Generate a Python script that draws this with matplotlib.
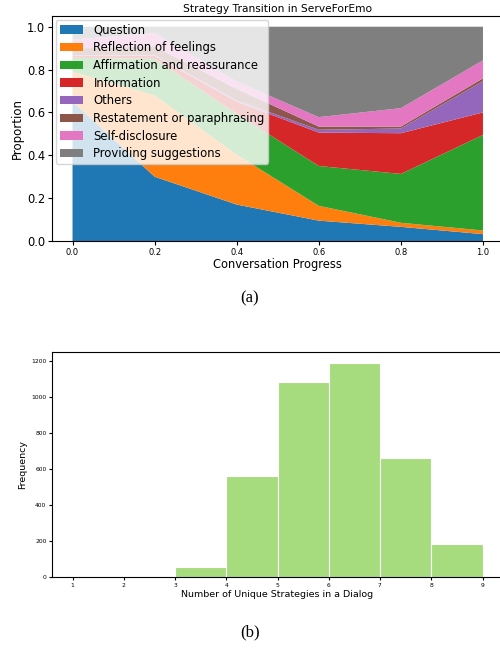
import matplotlib
matplotlib.use("Agg")
import matplotlib.pyplot as plt
import numpy as np

# ---- data: stacked strategy proportions ----
progress = [0.0, 0.2, 0.4, 0.6, 0.8, 1.0]
strategies = ["Question", "Reflection of feelings", "Affirmation and reassurance",
              "Information", "Others", "Restatement or paraphrasing",
              "Self-disclosure", "Providing suggestions"]
question      = [0.650, 0.300, 0.170, 0.095, 0.066, 0.032]
reflection    = [0.140, 0.380, 0.233, 0.069, 0.019, 0.017]
affirmation   = [0.065, 0.170, 0.190, 0.186, 0.228, 0.446]
information   = [0.010, 0.015, 0.057, 0.156, 0.190, 0.105]
others        = [0.003, 0.003, 0.006, 0.013, 0.022, 0.146]
restatement   = [0.030, 0.040, 0.054, 0.015, 0.009, 0.013]
self_disclose = [0.042, 0.062, 0.034, 0.044, 0.086, 0.084]
suggestions   = [0.060, 0.030, 0.256, 0.422, 0.380, 0.157]

# ---- data: histogram of unique strategies ----
bin_edges = [1, 2, 3, 4, 5, 6, 7, 8, 9]
counts = [0, 0, 58, 563, 1085, 1191, 661, 182]

colors = ["#1f77b4", "#ff7f0e", "#2ca02c", "#d62728", "#9467bd",
          "#8c564b", "#e377c2", "#7f7f7f"]

fig = plt.figure(figsize=(5, 6.5), dpi=100)

# ---- (a) stackplot ----
W, H = 500.0, 650.0
ax1 = fig.add_axes([52 / W, 1 - 241 / H, (503.5 - 52) / W, 225 / H])
ax1.stackplot(progress, question, reflection, affirmation, information, others,
              restatement, self_disclose, suggestions, labels=strategies, colors=colors)
ax1.set_title("Strategy Transition in ServeForEmo", fontsize=7.7, pad=3)
ax1.set_xlabel("Conversation Progress", fontsize=8.3, labelpad=1)
ax1.set_ylabel("Proportion", fontsize=8.5, labelpad=2)
ax1.tick_params(axis="y", labelsize=8.3, length=3, pad=2)
ax1.tick_params(axis="x", labelsize=6, length=3, pad=2)
ax1.set_xticks([0.0, 0.2, 0.4, 0.6, 0.8, 1.0])
ax1.set_yticks([0.0, 0.2, 0.4, 0.6, 0.8, 1.0])
ax1.legend(loc="upper left", fontsize=8.4, borderaxespad=0.35, labelspacing=0.4,
           handlelength=2.0, handletextpad=0.9, borderpad=0.3)

fig.text(0.5, 1 - 298 / H, "(a)", ha="center", va="center",
         fontsize=12, family="Liberation Serif")

# ---- (b) histogram ----
ax2 = fig.add_axes([52 / W, 1 - 577 / H, 451 / W, 225 / H])
ax2.hist(bin_edges[:-1], bins=bin_edges, weights=counts, color="#a6dc7e",
         edgecolor="white", linewidth=0.8)
ax2.set_xticks(bin_edges)
ax2.set_xlabel("Number of Unique Strategies in a Dialog", fontsize=6.8, labelpad=2)
ax2.set_ylabel("Frequency", fontsize=6.8, labelpad=3)
ax2.tick_params(labelsize=4.3, length=2, pad=2)

fig.text(0.5, 1 - 632 / H, "(b)", ha="center", va="center",
         fontsize=12, family="Liberation Serif")

fig.savefig("out.png", dpi=100)
